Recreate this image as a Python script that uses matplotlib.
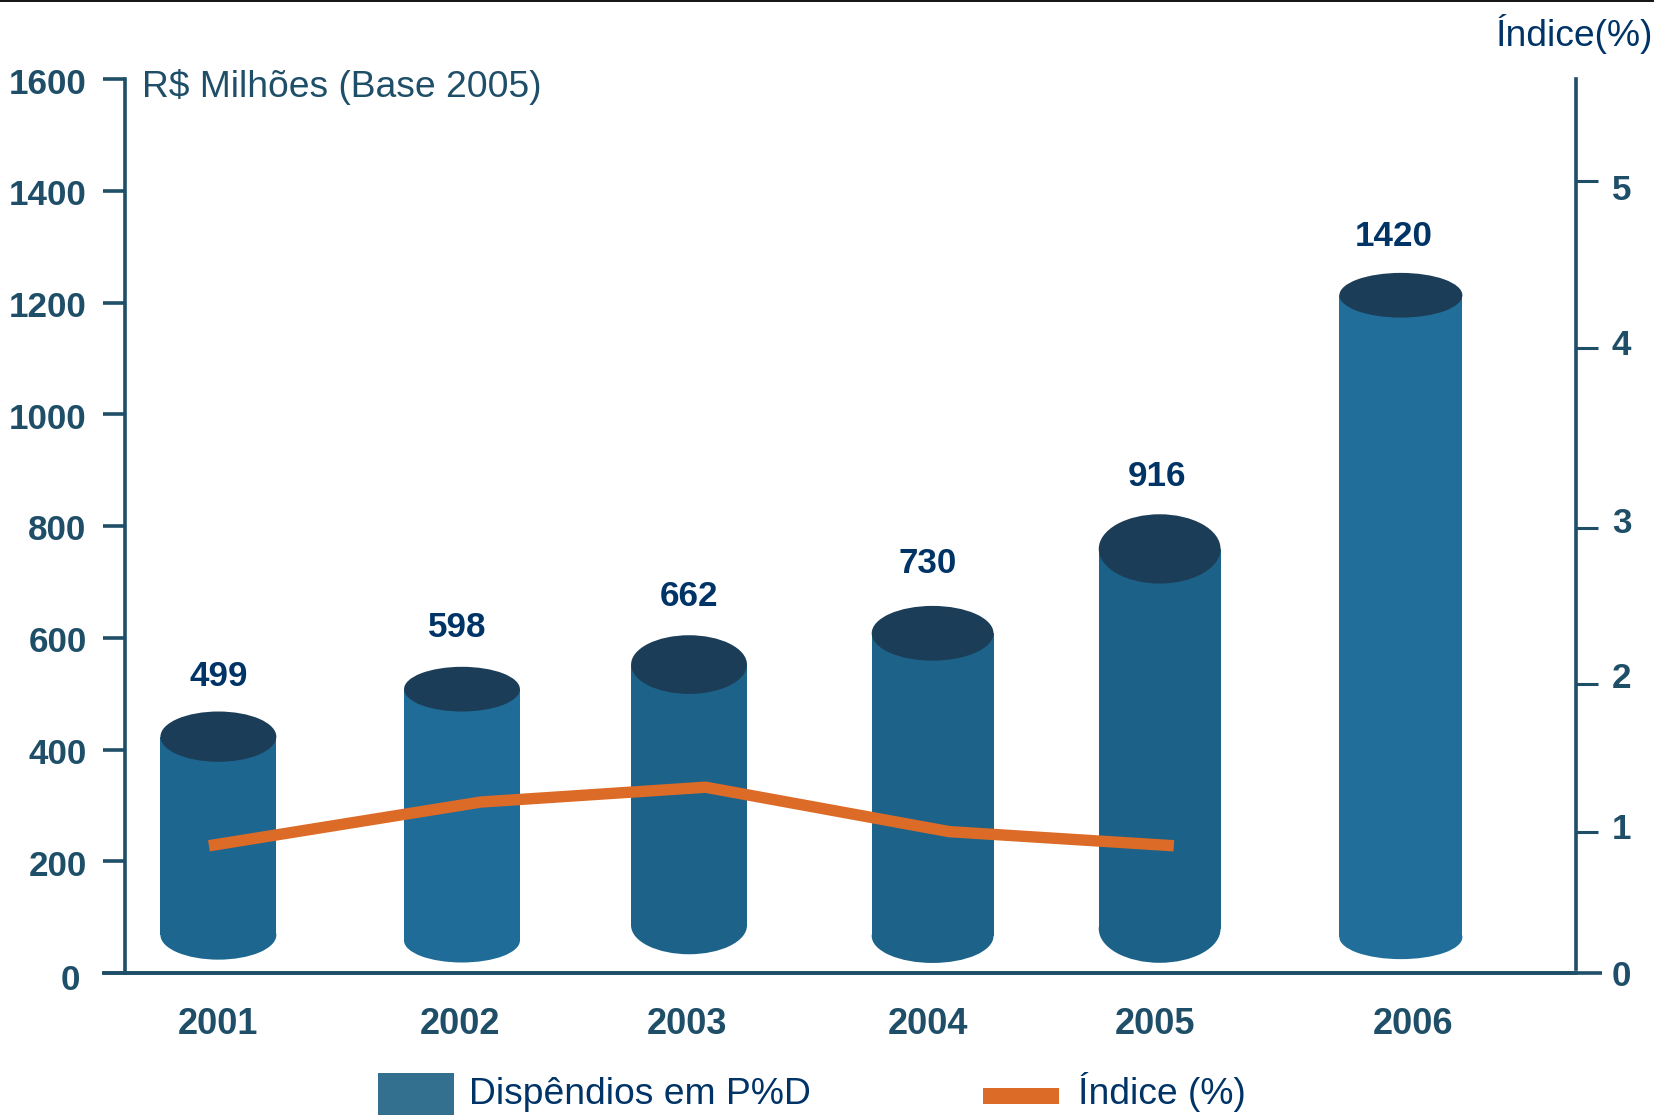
import numpy as np
import matplotlib
matplotlib.use("Agg")
import matplotlib.pyplot as plt
from matplotlib.patches import Ellipse, Rectangle
from matplotlib.ticker import FixedLocator, NullFormatter

# ---- data ----
years = ["2001", "2002", "2003", "2004", "2005", "2006"]
printed_values = [499, 598, 662, 730, 916, 1420]
# Drawn heights on the left axis (the picture's bars do not match the printed values)
bar_tops = [423, 508, 552, 608, 759, 1213]
bar_bases = [68, 58, 85, 66, 79, 64]
index_values = [0.9, 1.2, 1.3, 1.0, 0.9]
left_ticks = [0, 200, 400, 600, 800, 1000, 1200, 1400, 1600]
right_ticks = [0, 1, 2, 3, 4, 5]
# The right axis is unevenly spaced in the picture: left-axis equivalents of its ticks
right_tick_levels = [0, 253, 518, 796, 1119, 1417]

# ---- layout ----
bar_x = [2001.0, 2002.03, 2002.99, 2004.02, 2004.98, 2006.0]
bar_w = [0.49, 0.49, 0.49, 0.515, 0.515, 0.52]
cap_h = [90, 80, 105, 98, 124, 80]
line_x = [2000.96, 2002.11, 2003.06, 2004.09, 2005.04]
year_x = [2001.0, 2002.02, 2002.98, 2004.0, 2004.96, 2006.05]
value_x = [2001.0, 2002.01, 2002.99, 2004.0, 2004.97, 2005.97]
value_y = [530, 618, 674, 732, 888, 1318]

AXIS = "#1f4e68"
NAVY = "#003366"
BODY = ["#1d6690", "#1f6c98", "#1d6389", "#1d6389", "#1c6288", "#206e99"]
CAP = "#1b3d57"
ORANGE = "#dc6b27"
W, H = 1654, 1115

plt.rcParams["font.family"] = ["Liberation Sans", "DejaVu Sans"]
fig = plt.figure(figsize=(W / 100, H / 100), dpi=100)

L, R = 124.5, 1576
T, B = 79, 973
ax = fig.add_axes([L / W, 1 - B / H, (R - L) / W, (B - T) / H])
x0 = 2001.0 + (118 - 207) / 224.2
x1 = 2001.0 + (1494 - 207) / 224.2
ax.set_xlim(x0, x1)
ax.set_ylim(0, 1600)

for s in ["top", "right"]:
    ax.spines[s].set_visible(False)
for s in ["left", "bottom"]:
    ax.spines[s].set_color(AXIS)
    ax.spines[s].set_linewidth(2.6)
ax.set_xticks([])
ax.set_yticks(left_ticks)
ax.set_yticklabels([])
ax.tick_params(axis="y", length=16, width=2.6, color=AXIS)

# Left tick labels sit a little below their ticks in the picture
for t in left_ticks:
    ax.annotate(str(t), (0, t), xycoords=ax.get_yaxis_transform(),
                xytext=(-44 if t == 0 else -38, -8 if t == 0 else -5),
                textcoords="offset pixels", ha="right", va="center",
                fontsize=25.2, fontweight="bold", color=AXIS, annotation_clip=False)

# Cylinders: bar body plus rounded foot and dark top
for x, w, top, base, ch, col in zip(bar_x, bar_w, bar_tops, bar_bases, cap_h, BODY):
    ax.bar(x, top - base, w, bottom=base, color=col, linewidth=0, zorder=2)
    ax.add_patch(Ellipse((x, base), w, ch * 0.98, facecolor=col, edgecolor="none", zorder=2))
    ax.add_patch(Ellipse((x, top), w, ch, facecolor=CAP, edgecolor="none", zorder=3))

# Index line on the unevenly spaced right axis
ax2 = ax.twinx()
ax2.set_ylim(0, 5.657)
ax2.set_yscale(
    "function",
    functions=(
        lambda v: np.interp(v, right_ticks + [5.657], right_tick_levels + [1600]),
        lambda p: np.interp(p, right_tick_levels + [1600], right_ticks + [5.657]),
    ),
)
ax2.set_ylim(0, 5.657)
for s in ["top", "left", "bottom"]:
    ax2.spines[s].set_visible(False)
ax2.spines["right"].set_color(AXIS)
ax2.spines["right"].set_linewidth(2.6)
ax2.spines["right"].set_bounds(0.03, 5.657)
ax2.yaxis.set_major_locator(FixedLocator(right_ticks[1:]))
ax2.yaxis.set_major_formatter(NullFormatter())
ax2.yaxis.set_minor_locator(FixedLocator([]))
ax2.tick_params(axis="y", which="major", length=16, width=2.2, color=AXIS, direction="out")
ax2.plot(line_x, index_values, color=ORANGE, lw=8.2, solid_capstyle="butt",
         solid_joinstyle="miter", zorder=5)

# Right tick labels sit a little off their ticks in the picture
label_shift = [-3, 2, 5, 5, 2, -9]
for t, dy in zip(right_ticks, label_shift):
    ax2.annotate(str(t), (1, t), xycoords=ax2.get_yaxis_transform(),
                 xytext=(36, dy), textcoords="offset pixels", ha="left", va="center",
                 fontsize=25.2, fontweight="bold", color=AXIS, annotation_clip=False)

# x axis line reaches past both vertical axes
ax.plot([-0.0153, 1.0179], [0, 0], transform=ax.transAxes,
        color=AXIS, lw=2.6, clip_on=False, zorder=6, solid_capstyle="butt")

for x, lab in zip(year_x, years):
    ax.annotate(lab, (x, 0), xytext=(0, -51), textcoords="offset pixels", ha="center", va="center",
                fontsize=26.0, fontweight="bold", color=AXIS, annotation_clip=False)
for x, y, v in zip(value_x, value_y, printed_values):
    ax.text(x, y, str(v), ha="center", va="center", fontsize=25.2, fontweight="bold", color=NAVY)

# Free text and legend (figure pixel positions)
def fx(px):
    return px / W
def fy(py):
    return 1 - py / H

fig.text(fx(142), fy(87), "R$ Milhões (Base 2005)", fontsize=26.8, color=AXIS, ha="left", va="center")
fig.text(fx(1653), fy(34), "Índice(%)", fontsize=26.8, color=NAVY, ha="right", va="center")
fig.add_artist(Rectangle((fx(378), fy(1115)), 76 / W, 42 / H, transform=fig.transFigure,
                         facecolor="#33708f", edgecolor="none"))
fig.text(fx(469), fy(1094), "Dispêndios em P%D", fontsize=26.8, color=NAVY, ha="left", va="center")
fig.add_artist(Rectangle((fx(983), fy(1104)), 76 / W, 16 / H, transform=fig.transFigure,
                         facecolor=ORANGE, edgecolor="none"))
fig.text(fx(1078), fy(1092), "Índice (%)", fontsize=26.8, color=NAVY, ha="left", va="center")
fig.add_artist(plt.Line2D([0, 1], [fy(0.5)] * 2, transform=fig.transFigure, color="#111111", lw=1.4))

fig.savefig("out.png", dpi=100, facecolor="white")
